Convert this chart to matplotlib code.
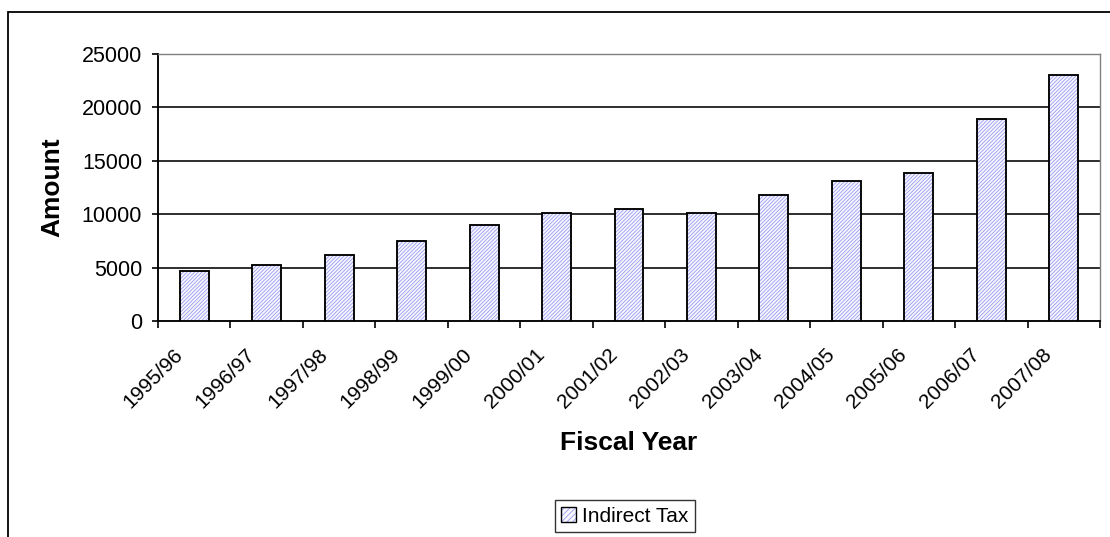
import matplotlib
matplotlib.use("Agg")
import matplotlib.pyplot as plt
import matplotlib.transforms as mtransforms
from matplotlib.patches import Rectangle, Patch

plt.rcParams["font.family"] = ["Liberation Sans", "DejaVu Sans"]
plt.rcParams["hatch.linewidth"] = 0.55

# data
years = ["1995/96", "1996/97", "1997/98", "1998/99", "1999/00", "2000/01", "2001/02",
         "2002/03", "2003/04", "2004/05", "2005/06", "2006/07", "2007/08"]
indirect_tax = [4710, 5240, 6200, 7490, 9020, 10110, 10490,
                10110, 11830, 13140, 13890, 18940, 23030]
y_ticks = [0, 5000, 10000, 15000, 20000, 25000]

HATCH_COL = "#9494f2"
W, H = 1110, 537
fig = plt.figure(figsize=(W / 100, H / 100), dpi=100)

# outer chart border (runs off right and bottom)
fig.patches.append(Rectangle((8 / W, 1 - 545 / H), 1110 / W, 533 / H,
                             transform=fig.transFigure, fill=False,
                             edgecolor="black", linewidth=1.3))

ax = fig.add_axes([158 / W, 1 - 321 / H, 942 / W, 267 / H])

x = list(range(len(years)))
# hatch takes the edge colour, so draw fill+hatch and outline separately
ax.bar(x, indirect_tax, width=0.4, facecolor="#f6f6ff", edgecolor=HATCH_COL,
       linewidth=0, hatch="/////////", zorder=3)
ax.bar(x, indirect_tax, width=0.4, fill=False, edgecolor="black",
       linewidth=1.35, zorder=4)

ax.set_ylim(0, 25000)
ax.set_xlim(-0.5, len(years) - 0.5)
ax.set_yticks(y_ticks)
ax.set_yticklabels([str(v) for v in y_ticks], fontsize=15.5)
for v in y_ticks[1:-1]:
    ax.axhline(v, color="black", linewidth=1.15, zorder=1)

ax.tick_params(axis="y", direction="out", length=4.5, width=1.2, pad=7)

# category labels with boundary tick marks
ax.set_xticks(x)
ax.set_xticklabels(years, rotation=45, ha="right", va="top", fontsize=15)
ax.set_xticks([i - 0.5 for i in range(len(years) + 1)], minor=True)
ax.tick_params(axis="x", which="major", length=0, pad=17)
ax.tick_params(axis="x", which="minor", direction="out", length=5, width=1.2)
shift = mtransforms.ScaledTranslation(-8 / 100, 0, fig.dpi_scale_trans)
for lbl in ax.get_xticklabels():
    lbl.set_transform(lbl.get_transform() + shift)

for side in ["left", "bottom"]:
    ax.spines[side].set_color("black")
    ax.spines[side].set_linewidth(1.35)
for side in ["top", "right"]:
    ax.spines[side].set_color("#808080")
    ax.spines[side].set_linewidth(1.0)

ax.set_ylabel("Amount", fontsize=19, fontweight="bold")
ax.yaxis.set_label_coords(-0.1125, 0.5)
ax.yaxis.label.set_va("center")
ax.set_xlabel("Fiscal Year", fontsize=19, fontweight="bold")
ax.xaxis.set_label_coords(0.5, -0.457)
ax.xaxis.label.set_va("center")

handle = (Patch(facecolor="#f6f6ff", edgecolor=HATCH_COL, linewidth=0, hatch="//////"),
          Patch(fill=False, edgecolor="black", linewidth=1.0))
leg = ax.legend([handle], ["Indirect Tax"], loc="center",
                bbox_to_anchor=(625 / W, 1 - 516 / H),
                bbox_transform=fig.transFigure, fontsize=15, frameon=True,
                fancybox=False, handlelength=0.7, handleheight=0.7,
                handletextpad=0.3, borderpad=0.3)
leg.get_frame().set_edgecolor("black")
leg.get_frame().set_linewidth(1.0)

fig.savefig("out.png", dpi=100)
